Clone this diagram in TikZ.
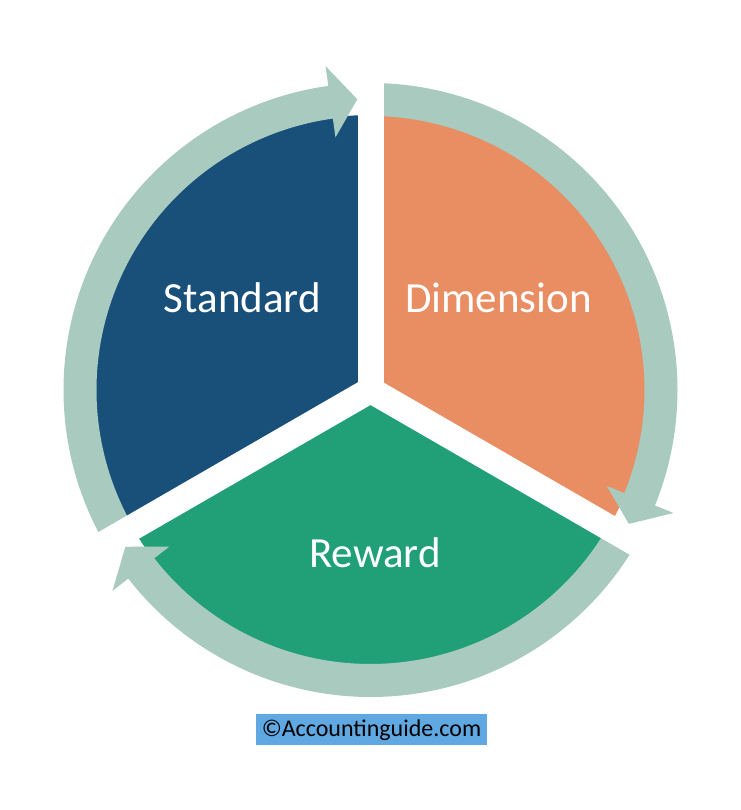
\documentclass[tikz,border=0pt]{standalone}
\usepackage{fontspec}
\setmainfont{Carlito}
\definecolor{stdblue}{RGB}{24,80,122}
\definecolor{dimorange}{RGB}{233,141,99}
\definecolor{rewgreen}{RGB}{33,159,118}
\definecolor{ringgreen}{RGB}{169,202,191}
\definecolor{boxblue}{RGB}{95,168,226}
\begin{document}
\begin{tikzpicture}[x=1pt, y=1pt,
  label/.style={text=white, font=\fontsize{43}{43}\selectfont, anchor=base},
  credit/.style={fill=boxblue, minimum width=231, minimum height=31, inner sep=0,
    text height=16pt, text depth=1pt, font=\fontsize{24}{24}\selectfont}]
\useasboundingbox (0,0) rectangle (740,810);
\coordinate (c) at (370.5,420);

% the three segments
\fill [stdblue] (c) -- ++(90:275) arc[start angle=90, end angle=210, radius=275] -- cycle;
\fill [dimorange] (c) -- ++(-30:275) arc[start angle=-30, end angle=90, radius=275] -- cycle;
\fill [rewgreen] (c) -- ++(210:275) arc[start angle=210, end angle=330, radius=275] -- cycle;

% circular arrows, tail angle / tip angle
\begin{scope}[shift={(c)}]
\foreach \a/\b in {210/92.6, 90/-27.4, 330/212.6}
  \fill [ringgreen] (\a:307) arc[start angle=\a, end angle=\b+5.3, radius=307]
    -- (\b+5.3:327) -- (\b:291) -- (\b+5.3:255) -- (\b+5.3:274)
    arc[start angle=\b+5.3, end angle=\a, radius=274] -- cycle;
% white gaps
\foreach \t in {90, 210, 330}
  \fill [white, rotate=\t] (0,-13) rectangle (345,13);
\end{scope}

\node [label] (standard) at (242.5,497) {Standard};
\node [label] (dimension) at (498.5,497) {Dimension};
\node [label] (reward) at (375,242) {Reward};

\node [credit] (copy) at (371.5,80.5) {\textcopyright Accountinguide.com};
\end{tikzpicture}
\end{document}
